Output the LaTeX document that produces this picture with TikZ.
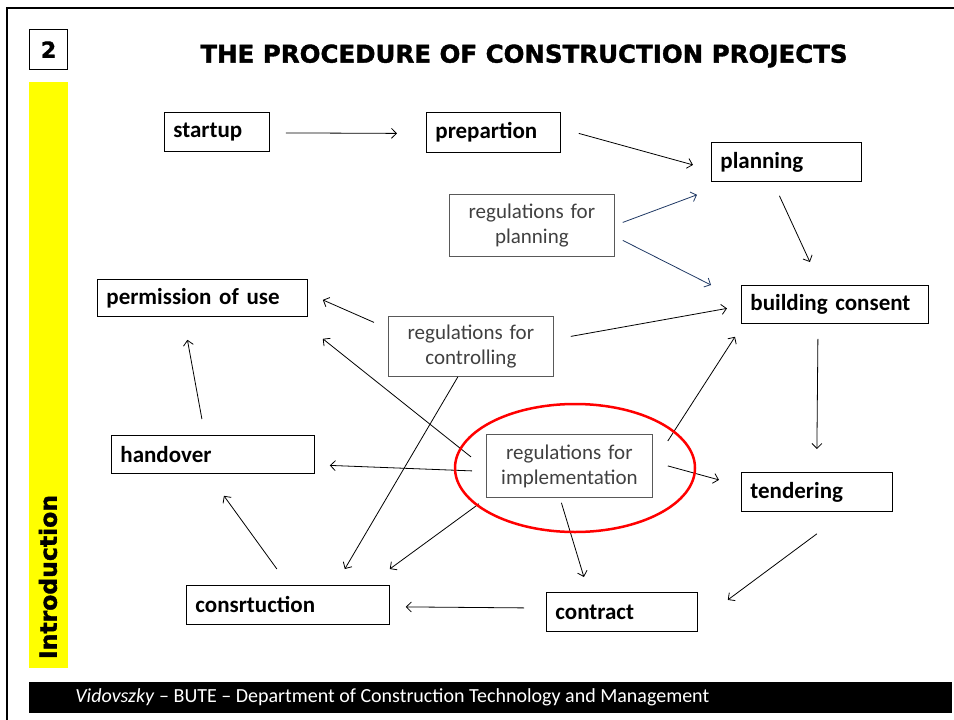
\documentclass[tikz,border=0pt]{standalone}
\usepackage{fontspec}
\setmainfont{Carlito}
\newfontfamily\headfont{DejaVu Sans}[BoldFeatures={FakeBold=1.5}]
\usetikzlibrary{arrows.meta,shapes.geometric,positioning,calc}
\definecolor{rulegray}{RGB}{89,89,89}
\definecolor{ruletext}{RGB}{64,64,64}
\definecolor{linknavy}{RGB}{31,56,100}
\definecolor{marker}{RGB}{255,0,0}
\definecolor{sidebar}{RGB}{255,255,0}

\begin{document}
\begin{tikzpicture}[x=1pt, y=-1pt, line width=0.8pt, >={Straight Barb[length=5pt,width=10pt]}]
   \useasboundingbox (0,0) rectangle (954,720);
   % slide frame, number, title, side bar and footer
   \draw[line width=2.5pt] (7,720) -- (7,8) -- (954,8);
   \node[draw, line width=1.2pt, anchor=north west, inner sep=0pt, minimum width=38pt, minimum height=40pt,
         font=\headfont\bfseries\fontsize{22}{22}\selectfont] (slideno) at (29,29) {2};
   \node[font=\headfont\bfseries\fontsize{24.5}{24.5}\selectfont] (title) at (524,56) {THE PROCEDURE OF CONSTRUCTION PROJECTS};
   \fill[sidebar] (29,82) rectangle (68,668);
   \node[rotate=90, font=\headfont\bfseries\fontsize{23.5}{23.5}\selectfont] (chapter) at (48,577) {Introduction};
   \fill (29,682) rectangle (952,713);
   \node[anchor=west, text=white, inner sep=0pt, font=\fontsize{20}{20}\selectfont] (footer) at (75,697)
      {\textit{Vidovszky} -- BUTE -- Department of Construction Technology and Management};
   \begin{scope}[every node/.style={draw, anchor=north west, inner xsep=9pt, inner ysep=0pt, align=left,
                 font=\bfseries\fontsize{23}{26}\selectfont}]
    \node[text width=87pt, minimum height=39pt] (startup) at (164,112) {startup};
    \node[text width=116pt, minimum height=40pt] (prepartion) at (426,112) {prepartion};
    \node[text width=132pt, minimum height=39pt] (planning) at (711,142) {planning};
    \node[text width=192pt, minimum height=37pt] (permission) at (97,279) {permission of use};
    \node[text width=169pt, minimum height=38pt] (consent) at (741,285) {building consent};
    \node[text width=185pt, minimum height=38pt] (handover) at (111,435) {handover};
    \node[text width=133pt, minimum height=39pt] (tendering) at (741,472) {tendering};
    \node[text width=133pt, minimum height=39pt] (contract) at (546,592) {contract};
    \node[text width=185pt, minimum height=39pt] (construction) at (186,585) {consrtuction};
   \end{scope}
   \begin{scope}[every node/.style={draw=rulegray, text=ruletext, anchor=north west, inner xsep=4pt, inner ysep=0pt,
                 align=center, font=\fontsize{21}{25}\selectfont}]
    \node[text width=157pt, minimum height=62pt] (regplan) at (449,194) {regulations for\\planning};
    \node[text width=157pt, minimum height=60pt] (regctrl) at (388,316) {regulations for\\controlling};
    \node[text width=158pt, minimum height=63pt] (regimpl) at (486,434) {regulations for\\implementation};
   \end{scope}
   \begin{scope}[every edge/.style={draw, ->, line width=0.8pt}]
    \draw ([shift={(16,1)}]startup.east) edge ([shift={(-29,1)}]prepartion.west);
    \draw ([shift={(18,1)}]prepartion.east) edge ([shift={(-18,3)}]planning.west);
    \draw[linknavy] ([shift={(8,-3)}]regplan.east) edge ([shift={(-14,13)}]planning.south west);
    \draw[linknavy] ([shift={(8,15)}]regplan.east) edge ([shift={(-30,0)}]consent.north west);
    \draw ([shift={(-7,14)}]planning.south) edge ([shift={(-25,-23)}]consent.north);
    \draw ([shift={(17,-10)}]regctrl.east) edge ([shift={(-14,4)}]consent.west);
    \draw ([shift={(-14,-24)}]regctrl.west) edge ([shift={(15,2)}]permission.east);
    \draw ([shift={(-13,0)}]regctrl.south) edge ([shift={(-45,-16)}]construction.north east);
    \draw ([shift={(-15,-9)}]regimpl.west) edge ([shift={(15,22)}]permission.south east);
    \draw ([shift={(-14,5)}]regimpl.west) edge ([shift={(15,11)}]handover.east);
    \draw ([shift={(-7,6)}]regimpl.south west) edge ([shift={(0,-16)}]construction.north east);
    \draw ([shift={(15,7)}]regimpl.north east) edge ([shift={(-6,13)}]consent.south west);
    \draw ([shift={(15,0)}]regimpl.east) edge ([shift={(-22,-12)}]tendering.west);
    \draw ([shift={(-8,5)}]regimpl.south) edge ([shift={(-38,-15)}]contract.north);
    \draw ([shift={(-17,15)}]consent.south) edge ([shift={(0,-23)}]tendering.north);
    \draw ([shift={(0,22)}]tendering.south) edge ([shift={(30,-12)}]contract.east);
    \draw ([shift={(-22,-4)}]contract.west) edge ([shift={(16,2)}]construction.east);
    \draw ([shift={(-11,-16)}]construction.north) edge ([shift={(11,22)}]handover.south);
    \draw ([shift={(-11,-16)}]handover.north) edge ([shift={(-15,23)}]permission.south);
   \end{scope}
   % highlight of the implementation rules
   \node[draw=marker, ellipse, line width=2.5pt, inner sep=0pt, minimum width=240pt, minimum height=128pt] (highlight) at (575,468) {};
\end{tikzpicture}
\end{document}
